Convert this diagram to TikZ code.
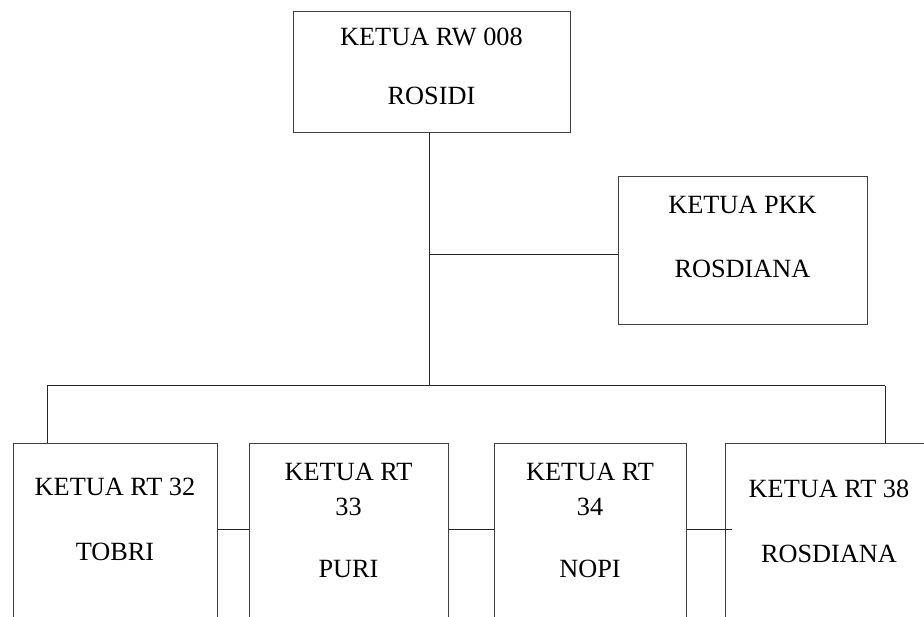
\documentclass[tikz,border=0pt]{standalone}
\usepackage{fontspec}
\setmainfont{Liberation Serif}
\begin{document}
\begin{tikzpicture}[x=1pt,y=-1pt,
  box/.style={draw=black!75,line width=1pt,rectangle,inner sep=0pt},
  lbl/.style={anchor=base,inner sep=0pt,font=\fontsize{26.3}{30}\selectfont},
  conn/.style={draw=black!85,line width=1pt}]
\useasboundingbox (0,0) rectangle (924,617);
\clip (0,0) rectangle (924,617);
% boxes
\node[box,minimum width=277pt,minimum height=121pt] (rw) at (431.5,72.5) {};
\node[box,minimum width=249pt,minimum height=148pt] (pkk) at (742.5,251) {};
\node[box,minimum width=204pt,minimum height=210pt] (rt32) at (115,549) {};
\node[box,minimum width=199pt,minimum height=210pt] (rt33) at (348.5,549) {};
\node[box,minimum width=192pt,minimum height=210pt] (rt34) at (590,549) {};
\node[box,minimum width=208pt,minimum height=210pt] (rt38) at (829,549) {};
% texts
\node[lbl] (t1) at (431.5,46) {KETUA RW 008};
\node[lbl] (t2) at (431.5,105) {ROSIDI};
\node[lbl] (t3) at (742.5,214) {KETUA PKK};
\node[lbl] (t4) at (742.5,278) {ROSDIANA};
\node[lbl] (t5) at (115,496) {KETUA RT 32};
\node[lbl] (t6) at (115,560) {TOBRI};
\node[lbl] (t7) at (348.5,480) {KETUA RT};
\node[lbl] (t8) at (348.5,515) {33};
\node[lbl] (t9) at (348.5,577) {PURI};
\node[lbl] (t10) at (590,480) {KETUA RT};
\node[lbl] (t11) at (590,515) {34};
\node[lbl] (t12) at (590,577) {NOPI};
\node[lbl] (t13) at (829,497) {KETUA RT 38};
\node[lbl] (t14) at (829,562) {ROSDIANA};
% connectors
\coordinate (busM) at (429,386);
\coordinate (busL) at (47,386);
\coordinate (busR) at (885,386);
\coordinate (jp) at (429,255);
\coordinate (cy) at (0,529.5);
\coordinate (c3) at (732,529.5);
\draw[conn] (rw.south -| busM) -- (busM);
\draw[conn] (jp) -- (pkk.west |- jp);
\draw[conn] (busL) -- (busR);
\draw[conn] (busL) -- (rt32.north -| busL);
\draw[conn] (busR) -- (rt38.north -| busR);
\draw[conn] (rt32.east |- cy) -- (rt33.west |- cy);
\draw[conn] (rt33.east |- cy) -- (rt34.west |- cy);
\draw[conn] (rt34.east |- cy) -- (c3);
\end{tikzpicture}
\end{document}
